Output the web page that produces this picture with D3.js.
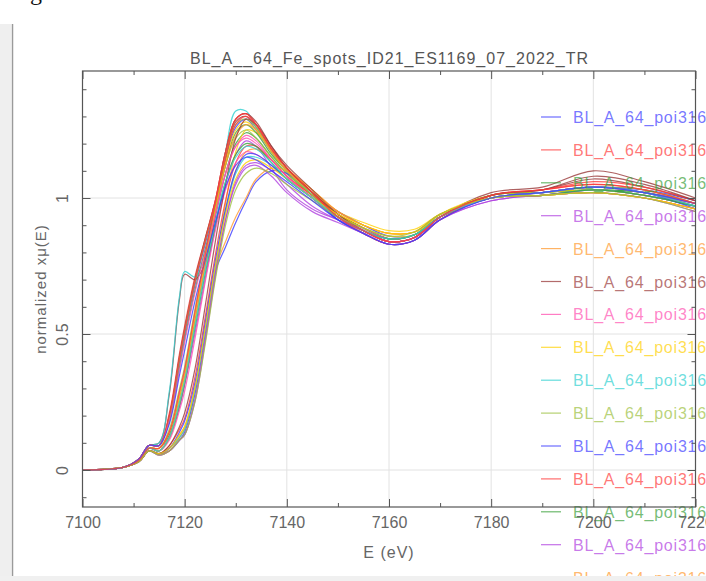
<!DOCTYPE html>
<html>
<head>
  <script src="https://d3js.org/d3.v7.min.js"></script>
  <style>
    body { margin: 0; background: #fff; }
    svg { display: block; }
    text { font-family: "Liberation Sans", Arial, sans-serif; }
  </style>
</head>
<body>
  <div id="chart_div"></div>

  <script>
    // energy grid shared by every spectrum (eV)
    var energy = [7100, 7108, 7111, 7113, 7115, 7117, 7119, 7120, 7122, 7124, 7126, 7128, 7130, 7132,
                  7134, 7137, 7140, 7145, 7150, 7155, 7160, 7165, 7170, 7180, 7190, 7200, 7210, 7220];

    // normalized mu(E), one row per spot
    var spectra = [
      [0.00,0.01,0.04,0.09,0.09, 0.19,0.40,0.50,0.68,0.83,0.97,1.14,1.26,1.29,1.25,1.17,1.10, 1.01,0.93,0.88,0.84,0.855,0.93,1.01,1.02,1.04,1.03,0.99],
      [0.00,0.01,0.04,0.09,0.09, 0.21,0.43,0.53,0.71,0.85,0.99,1.17,1.29,1.31,1.27,1.18,1.11, 1.02,0.92,0.87,0.83,0.845,0.92,1.01,1.03,1.05,1.03,0.98],
      [0.00,0.01,0.035,0.08,0.08, 0.13,0.27,0.35,0.55,0.75,0.93,1.09,1.20,1.24,1.22,1.15,1.09, 1.01,0.94,0.89,0.85,0.865,0.94,1.00,1.02,1.03,1.02,0.98],
      [0.00,0.01,0.035,0.08,0.07, 0.12,0.23,0.31,0.50,0.70,0.89,1.05,1.16,1.21,1.19,1.11,1.03, 0.96,0.92,0.88,0.84,0.855,0.93,1.00,1.01,1.03,1.01,0.97],
      [0.00,0.01,0.03,0.07,0.06, 0.08,0.13,0.16,0.30,0.52,0.75,0.95,1.10,1.17,1.18,1.14,1.08, 1.01,0.95,0.90,0.87,0.875,0.94,1.00,1.01,1.03,1.01,0.97],
      [0.00,0.01,0.04,0.09,0.10, 0.28,0.63,0.72,0.70,0.76,0.94,1.14,1.28,1.30,1.26,1.18,1.11, 1.02,0.93,0.88,0.84,0.855,0.93,1.01,1.03,1.07,1.04,0.99],
      [0.00,0.01,0.035,0.08,0.08, 0.14,0.28,0.36,0.57,0.76,0.94,1.09,1.19,1.23,1.21,1.14,1.08, 1.00,0.93,0.88,0.84,0.855,0.93,1.00,1.02,1.04,1.02,0.98],
      [0.00,0.01,0.03,0.07,0.06, 0.08,0.12,0.15,0.28,0.50,0.74,0.98,1.17,1.25,1.24,1.18,1.11, 1.03,0.95,0.91,0.88,0.885,0.94,1.00,1.01,1.02,1.00,0.96],
      [0.00,0.01,0.04,0.09,0.10, 0.29,0.64,0.73,0.71,0.78,0.97,1.17,1.32,1.32,1.26,1.17,1.10, 1.01,0.92,0.87,0.83,0.845,0.92,1.01,1.02,1.04,1.02,0.98],
      [0.00,0.01,0.04,0.08,0.08, 0.15,0.30,0.38,0.59,0.78,0.96,1.12,1.22,1.25,1.22,1.15,1.09, 1.01,0.93,0.89,0.85,0.865,0.93,1.00,1.02,1.04,1.02,0.97],
      [0.00,0.01,0.03,0.07,0.06, 0.07,0.11,0.14,0.28,0.50,0.73,0.82,0.91,0.99,1.06,1.10,1.09, 1.02,0.95,0.90,0.86,0.865,0.93,1.00,1.01,1.03,1.01,0.97],
      [0.00,0.01,0.03,0.07,0.06, 0.09,0.15,0.19,0.34,0.56,0.79,0.99,1.13,1.19,1.19,1.14,1.08, 1.01,0.94,0.89,0.85,0.865,0.93,1.00,1.02,1.04,1.02,0.97],
      [0.00,0.01,0.04,0.09,0.09, 0.18,0.38,0.48,0.66,0.81,0.96,1.12,1.24,1.27,1.24,1.16,1.10, 1.02,0.94,0.89,0.85,0.865,0.93,1.01,1.02,1.03,1.02,0.98],
      [0.00,0.01,0.03,0.07,0.055, 0.07,0.11,0.13,0.25,0.47,0.71,0.92,1.06,1.12,1.13,1.10,1.05, 0.97,0.92,0.88,0.84,0.855,0.92,0.99,1.01,1.02,1.00,0.96],
      [0.00,0.01,0.03,0.07,0.06, 0.07,0.12,0.15,0.30,0.52,0.74,0.84,0.93,1.00,1.07,1.11,1.10, 1.03,0.95,0.90,0.87,0.875,0.94,1.00,1.01,1.02,1.00,0.96],
      [0.00,0.01,0.04,0.09,0.09, 0.20,0.42,0.52,0.70,0.85,0.99,1.17,1.29,1.31,1.28,1.19,1.12, 1.03,0.94,0.88,0.84,0.855,0.93,1.02,1.04,1.10,1.06,1.00],
      [0.00,0.01,0.035,0.08,0.07, 0.11,0.22,0.29,0.48,0.69,0.88,1.03,1.13,1.17,1.16,1.12,1.07, 1.00,0.93,0.89,0.85,0.865,0.93,1.00,1.01,1.03,1.01,0.97],
      [0.00,0.01,0.035,0.08,0.08, 0.14,0.27,0.35,0.56,0.77,0.96,1.13,1.25,1.28,1.25,1.17,1.10, 1.02,0.94,0.89,0.86,0.865,0.94,1.01,1.02,1.03,1.01,0.97],
      [0.00,0.01,0.03,0.07,0.06, 0.08,0.12,0.15,0.29,0.51,0.74,0.95,1.09,1.15,1.15,1.12,1.07, 1.00,0.93,0.88,0.85,0.865,0.93,1.00,1.01,1.03,1.01,0.97],
      [0.00,0.01,0.04,0.09,0.09, 0.19,0.41,0.51,0.69,0.84,0.98,1.15,1.27,1.29,1.26,1.17,1.10, 1.01,0.93,0.88,0.84,0.855,0.93,1.01,1.02,1.04,1.03,0.98],
      [0.00,0.01,0.03,0.07,0.06, 0.08,0.14,0.18,0.32,0.54,0.77,0.96,1.10,1.16,1.16,1.12,1.07, 1.00,0.92,0.87,0.83,0.845,0.92,1.00,1.02,1.04,1.02,0.96],
      [0.00,0.01,0.04,0.09,0.09, 0.20,0.41,0.51,0.69,0.84,0.99,1.17,1.29,1.31,1.27,1.18,1.11, 1.02,0.93,0.87,0.83,0.845,0.92,1.01,1.03,1.06,1.04,0.99],
      [0.00,0.01,0.035,0.08,0.07, 0.12,0.24,0.32,0.52,0.72,0.90,1.06,1.16,1.20,1.19,1.13,1.07, 1.00,0.93,0.88,0.85,0.865,0.93,1.00,1.01,1.03,1.01,0.97],
      [0.00,0.01,0.03,0.07,0.055, 0.07,0.11,0.13,0.26,0.48,0.72,0.92,1.05,1.11,1.12,1.08,1.02, 0.95,0.91,0.87,0.83,0.845,0.92,0.99,1.01,1.02,1.00,0.95],
      [0.00,0.01,0.035,0.08,0.07, 0.12,0.25,0.33,0.54,0.75,0.95,1.12,1.23,1.27,1.25,1.17,1.10, 1.02,0.95,0.90,0.87,0.875,0.94,1.00,1.01,1.02,1.00,0.96],
      [0.00,0.01,0.03,0.07,0.06, 0.09,0.16,0.21,0.37,0.60,0.84,1.05,1.22,1.29,1.27,1.19,1.11, 1.02,0.94,0.88,0.84,0.855,0.93,1.01,1.03,1.08,1.05,0.99],
      [0.00,0.01,0.04,0.09,0.09, 0.18,0.37,0.47,0.65,0.80,0.94,1.09,1.19,1.22,1.20,1.14,1.08, 1.00,0.93,0.88,0.84,0.855,0.93,1.00,1.02,1.04,1.02,0.98],
      [0.00,0.01,0.03,0.07,0.06, 0.08,0.13,0.16,0.30,0.52,0.75,0.94,1.07,1.13,1.14,1.11,1.07, 1.00,0.94,0.90,0.87,0.875,0.94,1.00,1.01,1.02,1.00,0.96],
      [0.00,0.01,0.035,0.08,0.07, 0.12,0.25,0.33,0.53,0.73,0.91,1.06,1.15,1.19,1.18,1.13,1.07, 1.00,0.93,0.88,0.85,0.865,0.93,1.00,1.02,1.04,1.02,0.97],
      [0.00,0.01,0.03,0.07,0.055, 0.07,0.11,0.13,0.25,0.46,0.70,0.90,1.03,1.09,1.11,1.09,1.05, 0.99,0.93,0.89,0.86,0.875,0.94,1.00,1.01,1.02,1.00,0.95],
      [0.00,0.01,0.04,0.09,0.09, 0.17,0.35,0.44,0.62,0.77,0.91,1.04,1.12,1.15,1.14,1.10,1.06, 0.99,0.92,0.87,0.83,0.845,0.92,1.00,1.02,1.04,1.02,0.98],
      [0.00,0.01,0.035,0.08,0.08, 0.14,0.29,0.37,0.58,0.79,0.98,1.15,1.27,1.30,1.27,1.18,1.11, 1.02,0.93,0.88,0.84,0.855,0.93,1.01,1.03,1.05,1.03,0.98]
    ];

    var names = [
      "BL_A_64_poi31601", "BL_A_64_poi31602", "BL_A_64_poi31603", "BL_A_64_poi31604",
      "BL_A_64_poi31605", "BL_A_64_poi31606", "BL_A_64_poi31607", "BL_A_64_poi31608",
      "BL_A_64_poi31609", "BL_A_64_poi31610", "BL_A_64_poi31611", "BL_A_64_poi31612",
      "BL_A_64_poi31613", "BL_A_64_poi31614", "BL_A_64_poi31615", "BL_A_64_poi31616",
      "BL_A_64_poi31617", "BL_A_64_poi31618", "BL_A_64_poi31619", "BL_A_64_poi31620",
      "BL_A_64_poi31621", "BL_A_64_poi31622", "BL_A_64_poi31623", "BL_A_64_poi31624",
      "BL_A_64_poi31625", "BL_A_64_poi31626", "BL_A_64_poi31627", "BL_A_64_poi31628",
      "BL_A_64_poi31629", "BL_A_64_poi31630", "BL_A_64_poi31631", "BL_A_64_poi31632"
    ];

    var colors = ["#3b3bff", "#ff3b3b", "#3aa03a", "#b040e0", "#ff9a30",
                  "#9a3a3a", "#ff50b0", "#ffd000", "#30d0d0", "#9cc040"];

    var xMajor = [7100, 7120, 7140, 7160, 7180, 7200, 7220];
    var xMinor = [7110, 7130, 7150, 7170, 7190, 7210];
    var yMajor = [0, 0.5, 1];
    var yMinor = [-0.1, 0.1, 0.2, 0.3, 0.4, 0.6, 0.7, 0.8, 0.9, 1.1, 1.2, 1.3, 1.4];

    var title = "BL_A__64_Fe_spots_ID21_ES1169_07_2022_TR";

    var W = 706, H = 581;
    var frame = { left: 82.5, right: 695.5, top: 71, bottom: 507 };

    var svg = d3.select("#chart_div").append("svg")
      .attr("width", W)
      .attr("height", H);

    var x = d3.scaleLinear().domain([7100, 7220]).range([frame.left, frame.right]);
    var y = d3.scaleLinear().domain([-0.136, 1.467]).range([frame.bottom, frame.top]);

    // window chrome on the left
    svg.append("rect").attr("x", 0).attr("y", 24).attr("width", 11).attr("height", H - 24).attr("fill", "#efefef");
    svg.append("line").attr("x1", 12.5).attr("x2", 12.5).attr("y1", 24).attr("y2", 576)
      .attr("stroke", "#9a9a9a").attr("stroke-width", 1.5);
    svg.append("text").attr("x", 30).attr("y", 0)
      .style("font-family", "Liberation Serif").style("font-size", "24px").attr("fill", "#111").text("g");

    // grid
    var grid = svg.append("g").attr("class", "grid");
    grid.selectAll(".gx").data(xMajor.slice(1, -1)).enter().append("line")
      .attr("x1", function(d) { return x(d); }).attr("x2", function(d) { return x(d); })
      .attr("y1", frame.top).attr("y2", frame.bottom)
      .attr("stroke", "#e2e2e2").attr("stroke-width", 1);
    grid.selectAll(".gy").data(yMajor).enter().append("line")
      .attr("x1", frame.left).attr("x2", frame.right)
      .attr("y1", function(d) { return y(d); }).attr("y2", function(d) { return y(d); })
      .attr("stroke", "#e2e2e2").attr("stroke-width", 1);

    // spectra
    var line = d3.line()
      .x(function(d, i) { return x(energy[i]); })
      .y(function(d) { return y(d); })
      .curve(d3.curveCatmullRom.alpha(0.5));

    svg.append("g").attr("class", "spectra")
      .selectAll("path").data(spectra).enter().append("path")
      .attr("d", line)
      .attr("fill", "none")
      .attr("stroke", function(d, i) { return colors[i % colors.length]; })
      .attr("stroke-width", 1.2)
      .attr("stroke-opacity", 0.8);

    // legend (runs off the window, as in the original)
    var legend = svg.append("g").attr("class", "legend");
    var rows = legend.selectAll("g").data(names).enter().append("g")
      .attr("transform", function(d, i) { return "translate(0," + (117 + i * 32.9) + ")"; });
    rows.append("line")
      .attr("x1", 541).attr("x2", 561).attr("y1", 0).attr("y2", 0)
      .attr("stroke", function(d, i) { return colors[i % colors.length]; })
      .attr("stroke-opacity", 0.75).attr("stroke-width", 1.2);
    rows.append("text")
      .attr("x", 573).attr("y", 6)
      .style("font-size", "16px").style("letter-spacing", "0.8px")
      .attr("fill", function(d, i) { return colors[i % colors.length]; })
      .attr("fill-opacity", 0.7)
      .text(function(d) { return d; });

    // axes with inward ticks on all four sides
    function styleAxis(g) {
      g.select(".domain").remove();
      g.selectAll(".tick line").attr("stroke", "#555");
      g.selectAll(".tick text").attr("fill", "#666").style("font-size", "16px")
        .style("font-family", "Liberation Sans, Arial, sans-serif");
    }

    svg.append("g").attr("transform", "translate(0," + frame.bottom + ")")
      .call(d3.axisBottom(x).tickValues(xMajor).tickSizeInner(-8).tickSizeOuter(0).tickPadding(10).tickFormat(d3.format("d")))
      .call(styleAxis);
    svg.append("g").attr("transform", "translate(0," + frame.bottom + ")")
      .call(d3.axisBottom(x).tickValues(xMinor).tickSizeInner(-4).tickSizeOuter(0).tickFormat(""))
      .call(styleAxis);
    svg.append("g").attr("transform", "translate(0," + frame.top + ")")
      .call(d3.axisTop(x).tickValues(xMajor).tickSizeInner(-8).tickSizeOuter(0).tickFormat(""))
      .call(styleAxis);
    svg.append("g").attr("transform", "translate(0," + frame.top + ")")
      .call(d3.axisTop(x).tickValues(xMinor).tickSizeInner(-4).tickSizeOuter(0).tickFormat(""))
      .call(styleAxis);

    var yLeft = svg.append("g").attr("transform", "translate(" + frame.left + ",0)")
      .call(d3.axisLeft(y).tickValues(yMajor).tickSizeInner(-8).tickSizeOuter(0).tickPadding(0).tickFormat(d3.format("")))
      .call(styleAxis);
    // rotated tick labels on the y axis
    yLeft.selectAll(".tick text")
      .attr("x", null).attr("dy", null)
      .attr("text-anchor", "middle")
      .attr("transform", "translate(-15,0) rotate(-90)");
    svg.append("g").attr("transform", "translate(" + frame.left + ",0)")
      .call(d3.axisLeft(y).tickValues(yMinor).tickSizeInner(-4).tickSizeOuter(0).tickFormat(""))
      .call(styleAxis);
    svg.append("g").attr("transform", "translate(" + frame.right + ",0)")
      .call(d3.axisRight(y).tickValues(yMajor).tickSizeInner(-8).tickSizeOuter(0).tickFormat(""))
      .call(styleAxis);
    svg.append("g").attr("transform", "translate(" + frame.right + ",0)")
      .call(d3.axisRight(y).tickValues(yMinor).tickSizeInner(-4).tickSizeOuter(0).tickFormat(""))
      .call(styleAxis);

    // frame
    svg.append("rect")
      .attr("x", frame.left).attr("y", frame.top)
      .attr("width", frame.right - frame.left).attr("height", frame.bottom - frame.top)
      .attr("fill", "none").attr("stroke", "#555").attr("stroke-width", 1.2);

    // labels
    svg.append("text")
      .attr("x", (frame.left + frame.right) / 2).attr("y", 64)
      .attr("text-anchor", "middle")
      .attr("textLength", 398).attr("lengthAdjust", "spacing")
      .style("font-size", "16px").attr("fill", "#555")
      .text(title);

    svg.append("text")
      .attr("x", (frame.left + frame.right) / 2).attr("y", 558)
      .attr("text-anchor", "middle")
      .style("font-size", "16px").style("letter-spacing", "1px").attr("fill", "#666")
      .text("E (eV)");

    svg.append("text")
      .attr("transform", "translate(46," + ((frame.top + frame.bottom) / 2) + ") rotate(-90)")
      .attr("text-anchor", "middle")
      .style("font-size", "15px").style("letter-spacing", "1px").attr("fill", "#666")
      .text("normalized x\u03bc(E)");

    // bottom window band
    svg.append("rect").attr("x", 0).attr("y", 576).attr("width", W).attr("height", H - 576).attr("fill", "#f0f0f0");
  </script>
</body>
</html>
